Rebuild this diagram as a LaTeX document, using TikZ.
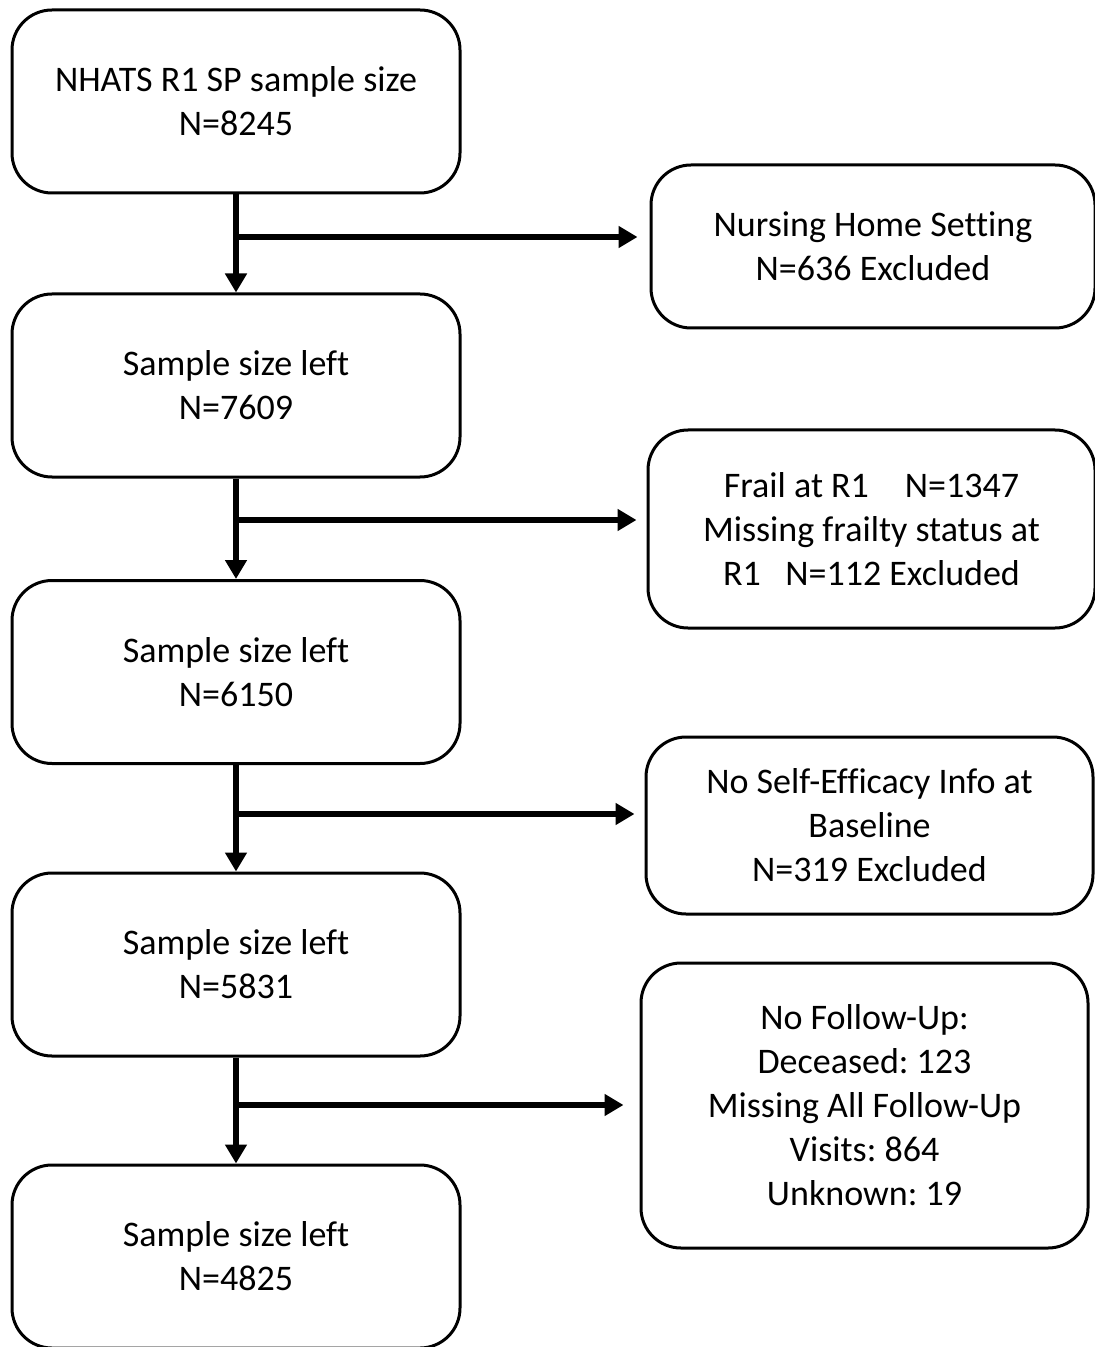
\documentclass[tikz,border=0pt]{standalone}
\usepackage{fontspec}
\setmainfont[Ligatures=CommonOff]{Carlito}
\usetikzlibrary{arrows.meta}
\frenchspacing

\begin{document}
\begin{tikzpicture}[x=0.5pt,y=-0.5pt,
  box/.style={draw, rounded corners=20pt, line width=1.5pt, align=center,
    font=\fontsize{18pt}{22pt}\selectfont, inner sep=0pt},
  leftbox/.style={box, minimum width=224pt, minimum height=91.5pt},
  arr/.style={line width=2.8pt, -{Triangle[length=9.5pt,width=10.5pt]}}]
\clip (0,0) rectangle (1095,1347);
% main column
\node[leftbox] (s0) at (236,101.5) {NHATS R1 SP sample size\\N=8245};
\node[leftbox] (s1) at (236,385.5) {Sample size left\\N=7609};
\node[leftbox] (s2) at (236,672) {Sample size left\\N=6150};
\node[leftbox] (s3) at (236,964.5) {Sample size left\\N=5831};
\node[leftbox] (s4) at (236,1256.5) {Sample size left\\N=4825};
% exclusions
\node[box, minimum width=222pt, minimum height=81.5pt] (x0) at (873,246.5)
  {Nursing Home Setting\\N=636 Excluded};
\node[box, minimum width=223.5pt, minimum height=99pt] (x1) at (871.5,529)
  {Frail at R1\quad N=1347\\Missing frailty status at\\R1\ \ \ N=112 Excluded};
\node[box, minimum width=223.5pt, minimum height=88.5pt] (x2) at (869.5,825.5)
  {No Self-Efficacy Info at\\Baseline\\N=319 Excluded};
\node[box, minimum width=223.5pt, minimum height=142.5pt] (x3) at (864.5,1105.5)
  {No Follow-Up:\\Deceased: 123\\Missing All Follow-Up\\Visits: 864\\Unknown: 19};
% branch points
\coordinate (b0) at (236,237);
\coordinate (b1) at (236,520);
\coordinate (b2) at (236,814);
\coordinate (b3) at (236,1105);
\draw[arr] (s0) -- (s1);
\draw[arr] (s1) -- (s2);
\draw[arr] (s2) -- (s3);
\draw[arr] (s3) -- (s4);
\draw[arr, shorten >=6pt] (b0) -- (b0 -| x0.west);
\draw[arr, shorten >=5pt] (b1) -- (b1 -| x1.west);
\draw[arr, shorten >=5pt] (b2) -- (b2 -| x2.west);
\draw[arr, shorten >=8pt] (b3) -- (b3 -| x3.west);
\end{tikzpicture}
\end{document}
